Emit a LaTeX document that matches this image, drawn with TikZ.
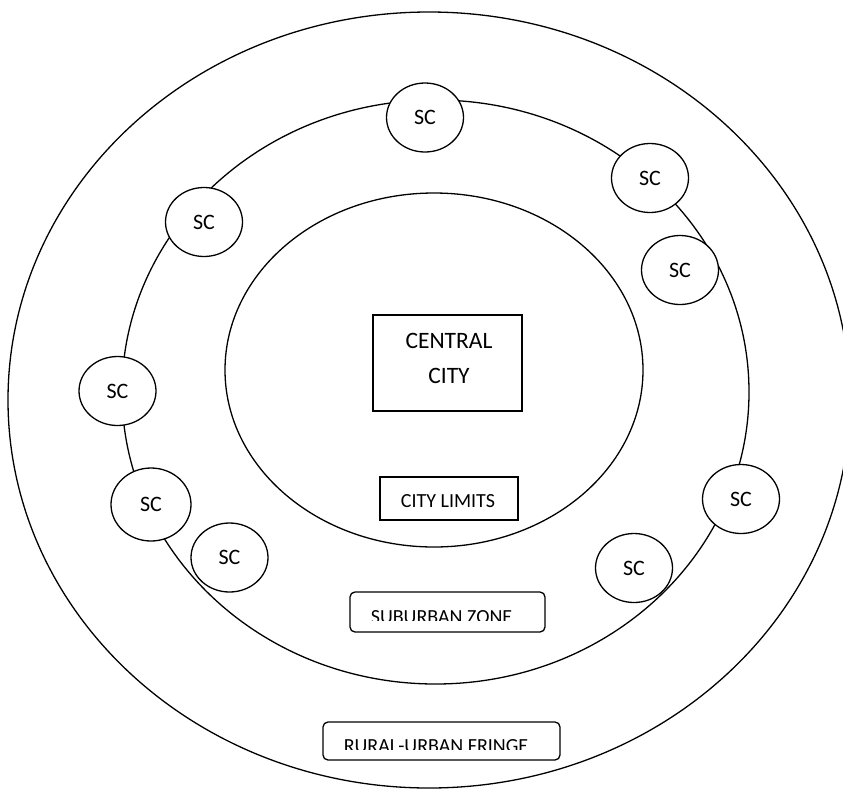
\documentclass[tikz,border=0pt]{standalone}
\usepackage{fontspec}
\setmainfont{Carlito}
\usetikzlibrary{shapes.geometric}
\begin{document}
\begin{tikzpicture}[x=1pt,y=-1pt,line width=1.3pt,
  ring/.style={draw, ellipse, inner sep=0pt},
  sc/.style={draw, fill=white, ellipse, inner sep=0pt, minimum width=77pt, minimum height=69pt, font=\fontsize{22}{26}\selectfont},
  box/.style={draw, fill=white, rectangle, inner sep=0pt},
  rbox/.style={draw, fill=white, rectangle, rounded corners=5pt, inner sep=0pt},
  lbl/.style={inner sep=0pt, font=\fontsize{20}{24}\selectfont}]
\useasboundingbox (0,0) rectangle (843,788);
\clip (0,0) rectangle (843,788);
% rings
\node[ring, minimum width=842pt, minimum height=776pt] (outer) at (429,400) {};
\node[ring, minimum width=627pt, minimum height=584pt] (middle) at (435.5,392) {};
\node[ring, minimum width=418pt, minimum height=354pt] (inner) at (434,370) {};
% central city
\node[box, minimum width=149pt, minimum height=96pt] (central) at (447.5,363) {};
\node[inner sep=0pt, align=center, font=\fontsize{23.5}{35}\selectfont] (centraltext) at (449,358) {CENTRAL\\CITY};
% city limits
\node[box, minimum width=138pt, minimum height=43pt] (limits) at (449,498.5) {};
\node[lbl] (limitstext) at (448,501) {CITY LIMITS};
% suburban zone
\node[rbox, minimum width=195pt, minimum height=40pt] (suburban) at (447.5,612) {};
\begin{scope}
\clip (352,593) rectangle (543,620.5);
\node[lbl] (suburbantext) at (441.5,617.5) {SUBURBAN ZONE};
\end{scope}
% rural-urban fringe
\node[rbox, minimum width=237pt, minimum height=38pt] (fringe) at (441.5,741) {};
\begin{scope}
\clip (325,723) rectangle (558,749);
\node[lbl] (fringetext) at (436,746) {RURAL-URBAN FRINGE};
\end{scope}
% satellite centres
\node[sc] (sc1) at (425,117.5) {SC};
\node[sc] (sc2) at (650,178) {SC};
\node[sc] (sc3) at (204,222) {SC};
\node[sc] (sc4) at (680,270) {SC};
\node[sc] (sc5) at (117.5,391) {SC};
\node[sc, minimum width=80pt, minimum height=73pt] (sc6) at (151,504.5) {SC};
\node[sc] (sc7) at (229.5,557.5) {SC};
\node[sc] (sc8) at (741,499) {SC};
\node[sc] (sc9) at (634,568) {SC};
\end{tikzpicture}
\end{document}
